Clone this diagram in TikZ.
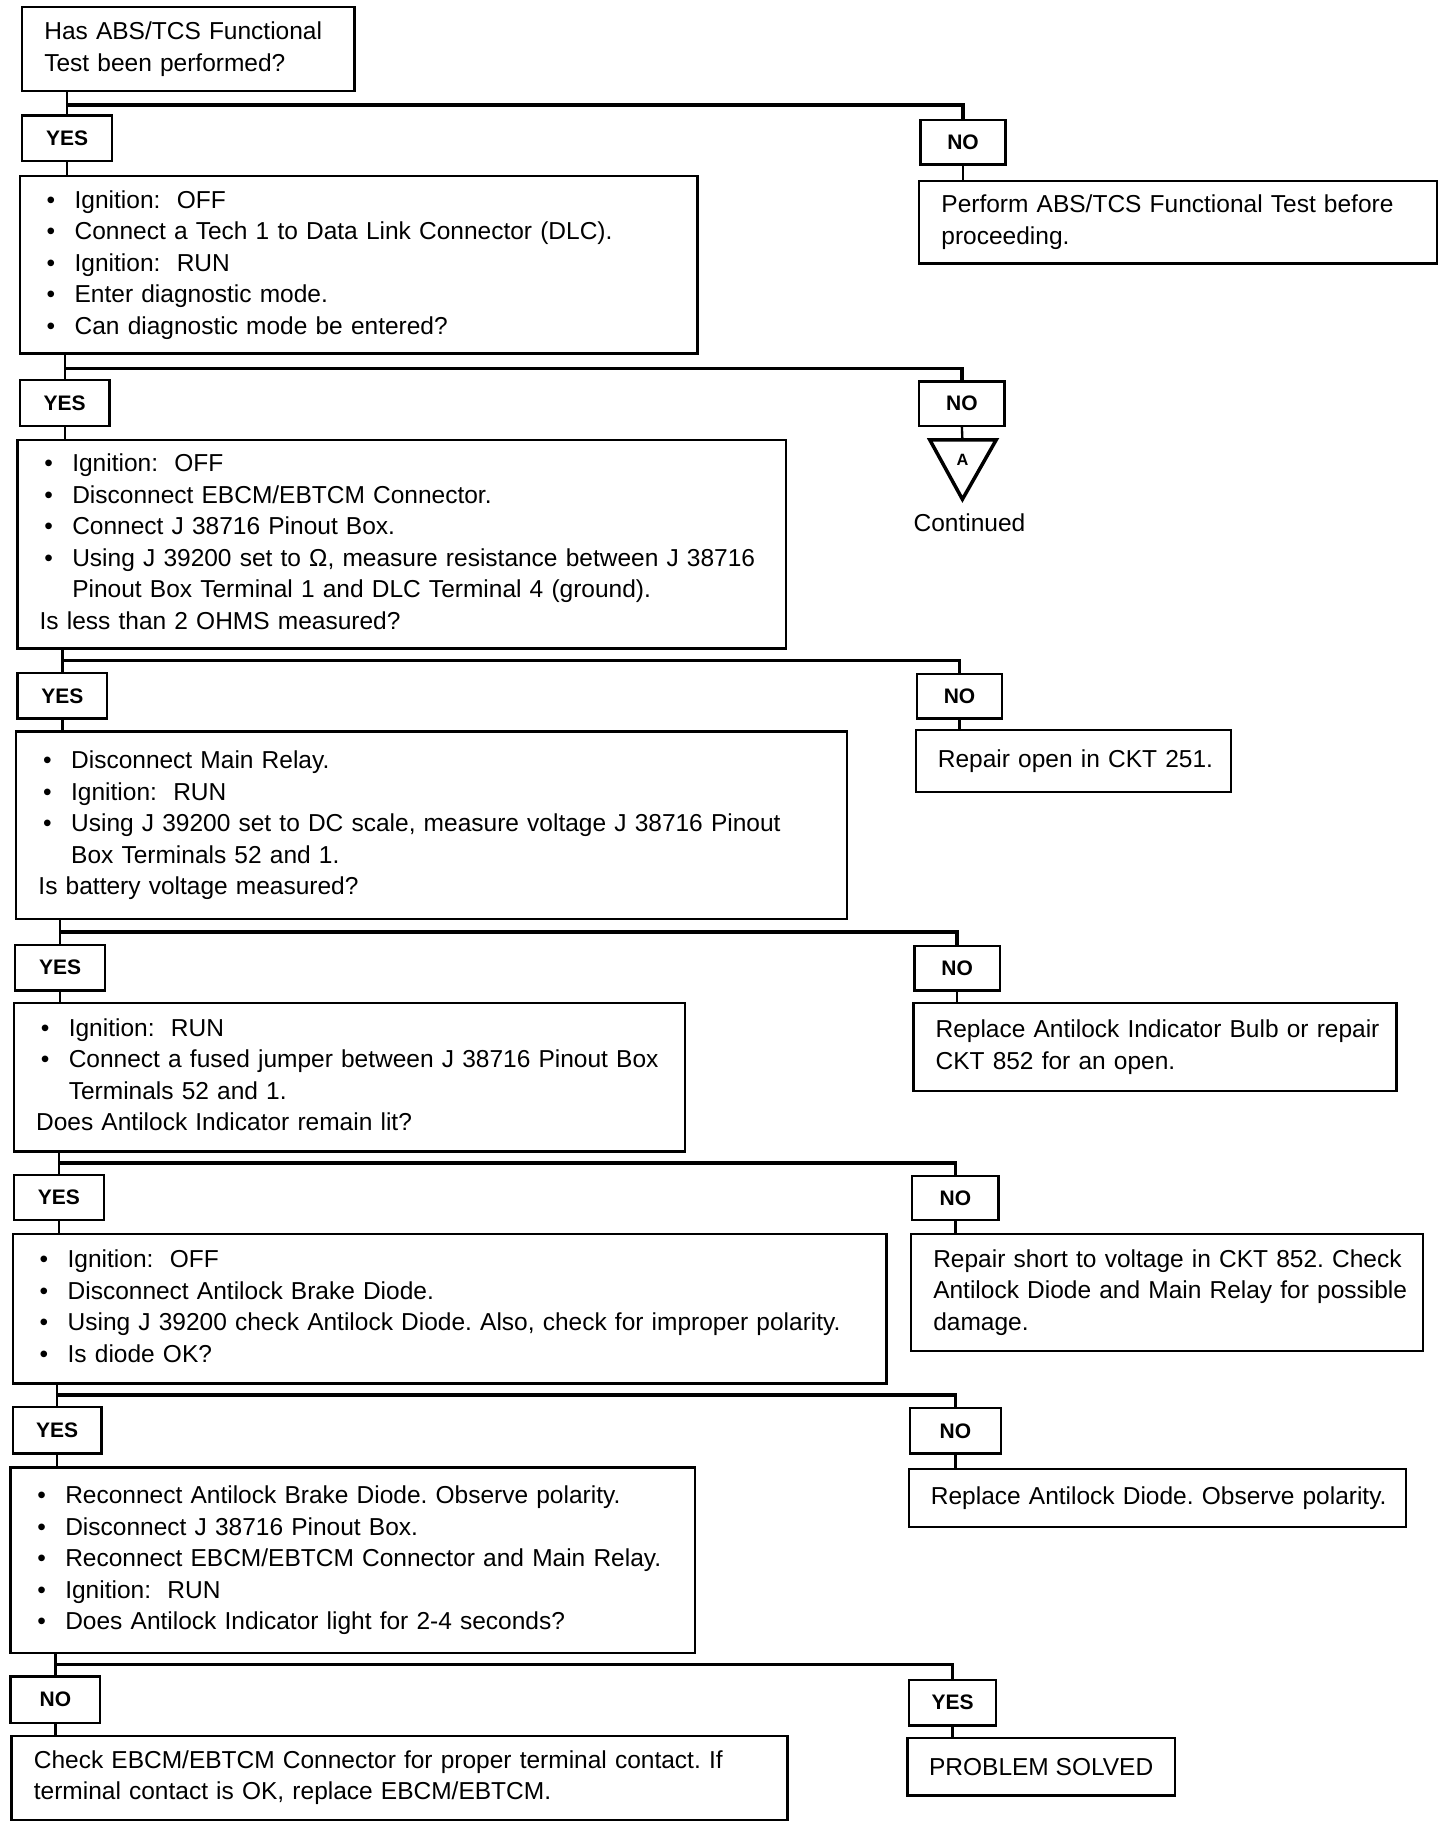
\documentclass[tikz,border=0pt]{standalone}
\usepackage{fontspec}
\setmainfont{Liberation Sans}
\frenchspacing
\newcommand\bi[1]{\makebox[14pt][l]{\hspace{2pt}\textbullet}#1}
\newcommand\ci[1]{\hspace*{14pt}#1}
\newcommand\bx[6]{%
  \pgfmathsetmacro\bw{(#4-#2)*0.5}%
  \pgfmathsetmacro\bh{(#5-#3)*0.5}%
  \pgfmathsetmacro\tw{(#4-#2)*0.5-19}%
  \node[box, anchor=north west, minimum width=\bw pt, minimum height=\bh pt,
        text width=\tw pt] (#1) at (#2,#3) {\begin{tabular}{@{}l@{}}#6\end{tabular}};}
\newcommand\lb[6]{%
  \pgfmathsetmacro\bw{(#4-#2)*0.5}%
  \pgfmathsetmacro\bh{(#5-#3)*0.5}%
  \node[lbox, anchor=north west, minimum width=\bw pt, minimum height=\bh pt] (#1) at (#2,#3) {#6};}
\newcommand\stage[4]{%
  \draw[vl] (#1.south -| #2.north) -- (#2.north);
  \draw[hl] (#2.north |- 0,#4) -| (#3.north);}
\tikzset{
  box/.style={draw, line width=1pt, inner xsep=9.5pt, inner ysep=0pt, outer sep=0pt,
    align=left, font=\fontsize{10.5}{13.5}\selectfont},
  lbox/.style={draw, line width=1pt, inner sep=0pt, outer sep=0pt, align=center,
    font=\bfseries\fontsize{9}{10}\selectfont},
  vl/.style={line width=1pt},
  hl/.style={line width=1.5pt},
}
\begin{document}
\begin{tikzpicture}[x=0.5pt,y=-0.5pt]
\fill[white] (0,0) rectangle (1248,1567);
\useasboundingbox (0,0) rectangle (1248,1567);

\bx{b1}{19}{6}{304}{78}{Has ABS/TCS Functional\\Test been performed?}
\lb{y1}{19}{99}{96}{138}{YES}
\lb{n1}{789}{103}{862}{141}{NO}
\bx{r1}{788}{155}{1232}{226}{Perform ABS/TCS Functional Test before\\proceeding.}
\bx{b2}{17}{151}{598}{303}{\bi{Ignition:\ \ OFF}\\\bi{Connect a Tech 1 to Data Link Connector (DLC).}\\\bi{Ignition:\ \ RUN}\\\bi{Enter diagnostic mode.}\\\bi{Can diagnostic mode be entered?}}
\lb{y2}{17}{326}{94}{365}{YES}
\lb{n2}{788}{327}{861}{365}{NO}
\coordinate (triA) at (825,377);
\draw[line width=1.5pt, line join=miter] (797,377) -- (854,377) -- (825,428) -- cycle;
\node[font=\bfseries\fontsize{7}{8}\selectfont] (tA) at (825,394) {A};
\node[font=\fontsize{10.5}{12}\selectfont] (cont) at (831,448) {Continued};
\bx{b3}{15}{377}{674}{556}{\bi{Ignition:\ \ OFF}\\\bi{Disconnect EBCM/EBTCM Connector.}\\\bi{Connect J 38716 Pinout Box.}\\\bi{Using J 39200 set to Ω, measure resistance between J 38716}\\\ci{Pinout Box Terminal 1 and DLC Terminal 4 (ground).}\\Is less than 2 OHMS measured?}
\lb{y3}{15}{577}{92}{616}{YES}
\lb{n3}{786}{578}{859}{616}{NO}
\bx{r3}{785}{626}{1055}{679}{Repair open in CKT 251.}
\bx{b4}{14}{627}{726}{788}{\bi{Disconnect Main Relay.}\\\bi{Ignition:\ \ RUN}\\\bi{Using J 39200 set to DC scale, measure voltage J 38716 Pinout}\\\ci{Box Terminals 52 and 1.}\\Is battery voltage measured?}
\lb{y4}{13}{810}{90}{849}{YES}
\lb{n4}{784}{811}{857}{849}{NO}
\bx{r4}{783}{860}{1197}{935}{Replace Antilock Indicator Bulb or repair\\CKT 852 for an open.}
\bx{b5}{12}{860}{587}{987}{\bi{Ignition:\ \ RUN}\\\bi{Connect a fused jumper between J 38716 Pinout Box}\\\ci{Terminals 52 and 1.}\\Does Antilock Indicator remain lit?}
\lb{y5}{12}{1007}{89}{1046}{YES}
\lb{n5}{782}{1008}{856}{1046}{NO}
\bx{r5}{781}{1058}{1220}{1158}{Repair short to voltage in CKT 852. Check\\Antilock Diode and Main Relay for possible\\damage.}
\bx{b6}{11}{1058}{760}{1186}{\bi{Ignition:\ \ OFF}\\\bi{Disconnect Antilock Brake Diode.}\\\bi{Using J 39200 check Antilock Diode. Also, check for improper polarity.}\\\bi{Is diode OK?}}
\lb{y6}{11}{1206}{87}{1246}{YES}
\lb{n6}{780}{1207}{858}{1246}{NO}
\bx{r6}{779}{1259}{1205}{1309}{Replace Antilock Diode. Observe polarity.}
\bx{b7}{9}{1258}{596}{1417}{\bi{Reconnect Antilock Brake Diode. Observe polarity.}\\\bi{Disconnect J 38716 Pinout Box.}\\\bi{Reconnect EBCM/EBTCM Connector and Main Relay.}\\\bi{Ignition:\ \ RUN}\\\bi{Does Antilock Indicator light for 2-4 seconds?}}
\lb{n7}{9}{1437}{86}{1477}{NO}
\lb{y7}{779}{1440}{854}{1479}{YES}
\bx{r7n}{10}{1488}{675}{1560}{Check EBCM/EBTCM Connector for proper terminal contact. If\\terminal contact is OK, replace EBCM/EBTCM.}
\node[box, anchor=north west, minimum width=114.5pt, minimum height=24.5pt, inner xsep=0pt, align=center]
  (r7y) at (778,1490) {PROBLEM SOLVED};

% connectors
\stage{b1}{y1}{n1}{90}
\stage{b2}{y2}{n2}{316}
\stage{b3}{y3}{n3}{566}
\stage{b4}{y4}{n4}{799}
\stage{b5}{y5}{n5}{997}
\stage{b6}{y6}{n6}{1196}
\stage{b7}{n7}{y7}{1427}
\draw[vl] (y1.south) -- (y1.south |- b2.north);
\draw[vl] (y2.south) -- (y2.south |- b3.north);
\draw[vl] (y3.south) -- (y3.south |- b4.north);
\draw[vl] (y4.south) -- (y4.south |- b5.north);
\draw[vl] (y5.south) -- (y5.south |- b6.north);
\draw[vl] (y6.south) -- (y6.south |- b7.north);
\draw[vl] (n7.south) -- (n7.south |- r7n.north);
\draw[vl] (n1.south) -- (n1.south |- r1.north);
\draw[vl] (n2.south) -- (triA);
\draw[vl] (n3.south) -- (n3.south |- r3.north);
\draw[vl] (n4.south) -- (n4.south |- r4.north);
\draw[vl] (n5.south) -- (n5.south |- r5.north);
\draw[vl] (n6.south) -- (n6.south |- r6.north);
\draw[vl] (y7.south) -- (y7.south |- r7y.north);
\end{tikzpicture}
\end{document}
